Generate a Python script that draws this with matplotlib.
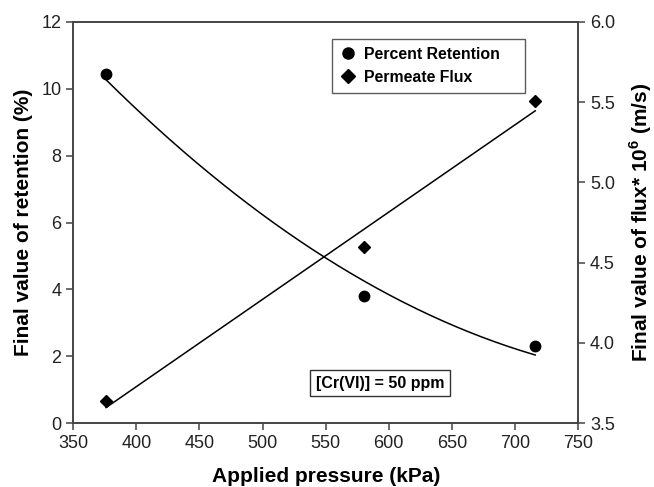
import numpy as np
import matplotlib
matplotlib.use('Agg')
from matplotlib import pyplot as plt
from matplotlib.lines import Line2D

plt.rcParams['font.family'] = ['Liberation Sans', 'DejaVu Sans']
plt.rcParams['mathtext.fontset'] = 'custom'
plt.rcParams['mathtext.rm'] = 'Liberation Sans'
plt.rcParams['mathtext.bf'] = 'Liberation Sans:bold'

# data
pressure = [376, 580, 716]
retention = [10.45, 3.81, 2.31]
flux = [3.64, 4.60, 5.51]

# retention trend line as drawn in the original (read at the same pressures)
ret_trend = [10.27, 4.26, 2.04]

fig = plt.figure(figsize=(6.54, 4.87), dpi=100)
ax = fig.add_axes([0.112, 0.131, 0.772, 0.824])
ax2 = ax.twinx()

xs = np.linspace(pressure[0], pressure[-1], 200)
rc = np.polyfit(pressure, ret_trend, 2)
ax.plot(xs, np.polyval(rc, xs), color='black', lw=1.1)
ax.plot(pressure, retention, 'o', color='black', ms=7.5)

fc = np.polyfit(pressure, flux, 1)
ax2.plot(xs, np.polyval(fc, xs), color='black', lw=1.1)
ax2.plot(pressure, flux, 'D', color='black', ms=6.5)

ax.set_xlim(350, 750)
ax.set_ylim(0, 12)
ax2.set_ylim(3.5, 6.0)
ax.set_xticks(range(350, 751, 50))
ax.set_yticks(range(0, 13, 2))
ax2.set_yticks([3.5, 4.0, 4.5, 5.0, 5.5, 6.0])
ax2.set_yticklabels(['3.5', '4.0', '4.5', '5.0', '5.5', '6.0'])

for a in (ax, ax2):
    for s in a.spines.values():
        s.set_color('#444444')
        s.set_linewidth(1.2)
    a.tick_params(direction='out', length=5, width=1.1, color='#444444',
                  labelsize=13, labelcolor='#222222')

ax.set_xlabel('Applied pressure (kPa)', fontsize=15, fontweight='bold', labelpad=11)
ax.set_ylabel('Final value of retention (%)', fontsize=15, fontweight='bold', labelpad=6)
ax2.set_ylabel(r'Final value of flux* 10$^{\mathbf{6}}$ (m/s)', fontsize=15,
               fontweight='bold', labelpad=9)

handles = [Line2D([], [], ls='none', marker='o', color='black', ms=8),
           Line2D([], [], ls='none', marker='D', color='black', ms=7)]
leg = ax.legend(handles, ['Percent Retention', 'Permeate Flux'],
                loc='upper left', bbox_to_anchor=(0.513, 0.958, 0.382, 0.0),
                mode='expand', prop={'weight': 'bold', 'size': 11.4},
                frameon=True, fancybox=False, edgecolor='#333333',
                handletextpad=0.5, borderpad=0.5, labelspacing=0.5,
                handlelength=1.0, borderaxespad=0.0)
leg.get_frame().set_linewidth(1.0)

ax.text(593, 1.2, '[Cr(VI)] = 50 ppm', fontsize=11.5, fontweight='bold',
        ha='center', va='center',
        bbox=dict(boxstyle='square,pad=0.35', fc='white', ec='#333333', lw=1.0))

fig.savefig('out.png', dpi=100)
